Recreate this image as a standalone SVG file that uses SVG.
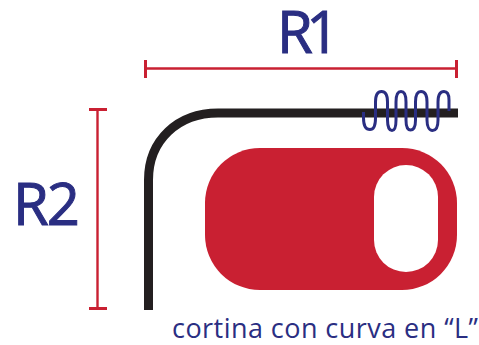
<svg xmlns="http://www.w3.org/2000/svg" width="479" height="345" viewBox="0 0 479 345">
<style>
.t{font-family:"Open Sans","Noto Sans",sans-serif;fill:#2a2e82}
.b{stroke:#2a2e82;stroke-width:1}
.d{fill:none;stroke:#c92032}
</style>
<rect width="479" height="345" fill="#fff"/>
<g id="connectors">
<path class="d" stroke-width="2.400" d="M145 68.500H456"/>
<path class="d" stroke-width="3" d="M145.500 60V78M456.500 60V78"/>
<path class="d" stroke-width="2.400" d="M97.500 109V308"/>
<path class="d" stroke-width="3" d="M89 109.500H107M89 308.500H107"/>
</g>
<g id="curtain"><path d="M148.500 310V180C148.500 140 178 113 218 113H458" fill="none" stroke="#231f20" stroke-width="9"/></g>
<g id="shape">
<rect x="205" y="148" width="252" height="142" rx="55" fill="#c92032"/>
<rect x="374" y="165" width="64" height="107" rx="32" fill="#fff"/>
</g>
<g id="coil"><path d="M363.500 112V118C363.500 126 366 129.500 370 129.500C374 129.500 375.500 126 375.500 118V102C375.500 95 378 91.500 381.500 91.500C385.500 91.500 387.500 95 387.500 102V120C387.500 127 389.500 130.500 392 130.500C395 130.500 396 127 396 120V102C396 95 398 91.500 401 91.500C404.500 91.500 406 95 406 102V120C406 127 408 130 410.500 130C413.500 130 415.500 127 415.500 120V102C415.500 95 417.500 91.500 421 91.500C425 91.500 427 95 427 102V120C427 127 429.500 130.500 432.500 130.500C436 130.500 438 127 438 120V102C438 95 440 91.500 444 91.500C447.500 91.500 449 95 449 100V111" fill="none" stroke="#2a2e82" stroke-width="3"/></g>
<g id="labels">
<text class="t b" x="277" y="52.500" font-size="58" letter-spacing="-6.500">R1</text>
<text class="t b" x="13" y="225" font-size="58" letter-spacing="-2">R2</text>
<text class="t" x="172" y="338" font-size="27" textLength="306" lengthAdjust="spacing">cortina con curva en “L”</text>
</g>
</svg>
